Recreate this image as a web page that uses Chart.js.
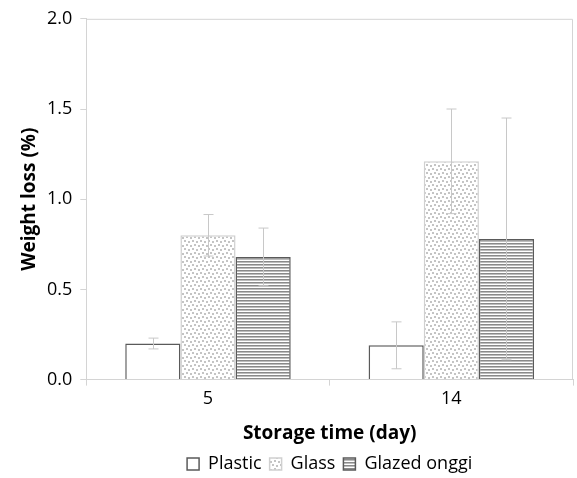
<!DOCTYPE html>
<html>
<head>
<meta charset="utf-8">
<script src="https://cdn.jsdelivr.net/npm/chart.js@4/dist/chart.umd.min.js"></script>
<style>
  body { margin: 0; background: #fff; }
</style>
</head>
<body>
<canvas id="c" width="577" height="478"></canvas>
<script>
const days = ['5', '14'];
const plastic = [0.20, 0.19];
const plasticErr = [0.03, 0.13];
const glass = [0.80, 1.21];
const glassErr = [0.115, 0.29];
const onggi = [0.68, 0.78];
const onggiErr = [0.16, 0.67];
const yTicks = [0, 0.5, 1.0, 1.5, 2.0];

function dotPattern() {
    const p = document.createElement('canvas');
    p.width = 8; p.height = 8;
    const g = p.getContext('2d');
    g.fillStyle = '#fff';
    g.fillRect(0, 0, 8, 8);
    g.fillStyle = '#c4c4c4';
    g.fillRect(0, 0, 2, 2);
    g.fillRect(4, 1, 2, 2);
    g.fillRect(2, 4, 2, 2);
    g.fillRect(6, 5, 2, 2);
    return g.createPattern(p, 'repeat');
}

function stripePattern() {
    const p = document.createElement('canvas');
    p.width = 4; p.height = 3;
    const g = p.getContext('2d');
    g.fillStyle = '#fff';
    g.fillRect(0, 0, 4, 3);
    g.fillStyle = '#8a8a8a';
    g.fillRect(0, 0, 4, 1);
    g.fillStyle = '#bdbdbd';
    g.fillRect(0, 1, 4, 1);
    return g.createPattern(p, 'repeat');
}

// error bars + plot frame
const extras = {
    id: 'extras',
    afterDatasetsDraw(chart) {
        const ctx = chart.ctx;
        const y = chart.scales.y;
        const errs = [plasticErr, glassErr, onggiErr];
        ctx.save();
        ctx.strokeStyle = '#c8c8c8';
        ctx.lineWidth = 1;
        chart.data.datasets.forEach((ds, i) => {
            const meta = chart.getDatasetMeta(i);
            meta.data.forEach((bar, j) => {
                const v = ds.data[j], e = errs[i][j];
                const x = Math.round(bar.x) + 0.5;
                const top = y.getPixelForValue(v + e);
                const bot = y.getPixelForValue(v - e);
                ctx.beginPath();
                ctx.moveTo(x, top); ctx.lineTo(x, bot);
                ctx.moveTo(x - 5, top); ctx.lineTo(x + 5, top);
                ctx.moveTo(x - 5, bot); ctx.lineTo(x + 5, bot);
                ctx.stroke();
            });
        });
        const a = chart.chartArea;
        ctx.strokeStyle = '#d4d4d4';
        ctx.beginPath();
        ctx.moveTo(a.left, a.top + 0.5);
        ctx.lineTo(a.right - 0.5, a.top + 0.5);
        ctx.lineTo(a.right - 0.5, a.bottom);
        ctx.stroke();
        ctx.restore();
    }
};

const font = "'Open Sans', 'Noto Sans', sans-serif";

new Chart(document.getElementById('c'), {
    type: 'bar',
    data: {
        labels: days,
        datasets: [
            { label: 'Plastic', data: plastic, backgroundColor: '#fff', borderColor: '#5a5a5a', borderWidth: 1.5 },
            { label: 'Glass', data: glass, backgroundColor: dotPattern(), borderColor: '#d0d0d0', borderWidth: 1.5 },
            { label: 'Glazed onggi', data: onggi, backgroundColor: stripePattern(), borderColor: '#5a5a5a', borderWidth: 1.5 }
        ]
    },
    options: {
        responsive: false,
        animation: false,
        categoryPercentage: 0.68,
        barPercentage: 1.0,
        layout: { padding: { top: 0, right: 4, left: 20, bottom: -5 } },
        plugins: {
            legend: {
                position: 'bottom',
                fullSize: false,
                labels: {
                    boxWidth: 12, boxHeight: 12, padding: 8,
                    color: '#000',
                    font: { family: font, size: 18 }
                }
            },
            tooltip: { enabled: false }
        },
        scales: {
            x: {
                grid: { offset: true, drawOnChartArea: false, color: '#d4d4d4', tickLength: 6 },
                border: { color: '#d4d4d4' },
                ticks: { color: '#000', font: { family: font, size: 18 }, padding: 2 },
                title: { display: true, text: 'Storage time (day)', color: '#000', font: { family: font, size: 19, weight: 'bold' }, padding: { top: 11, bottom: 2 } }
            },
            y: {
                min: 0, max: 2,
                afterBuildTicks: s => { s.ticks = yTicks.map(v => ({ value: v })); },
                grid: { drawOnChartArea: false, color: '#d4d4d4', tickLength: 6 },
                border: { color: '#d4d4d4' },
                ticks: { color: '#000', font: { family: font, size: 18 }, padding: 8, callback: v => v.toFixed(1) },
                title: { display: true, text: 'Weight loss (%)', color: '#000', font: { family: font, size: 19, weight: 'bold', lineHeight: 1 }, padding: { top: 0, bottom: 0 } }
            }
        }
    },
    plugins: [extras]
});
</script>
</body>
</html>
